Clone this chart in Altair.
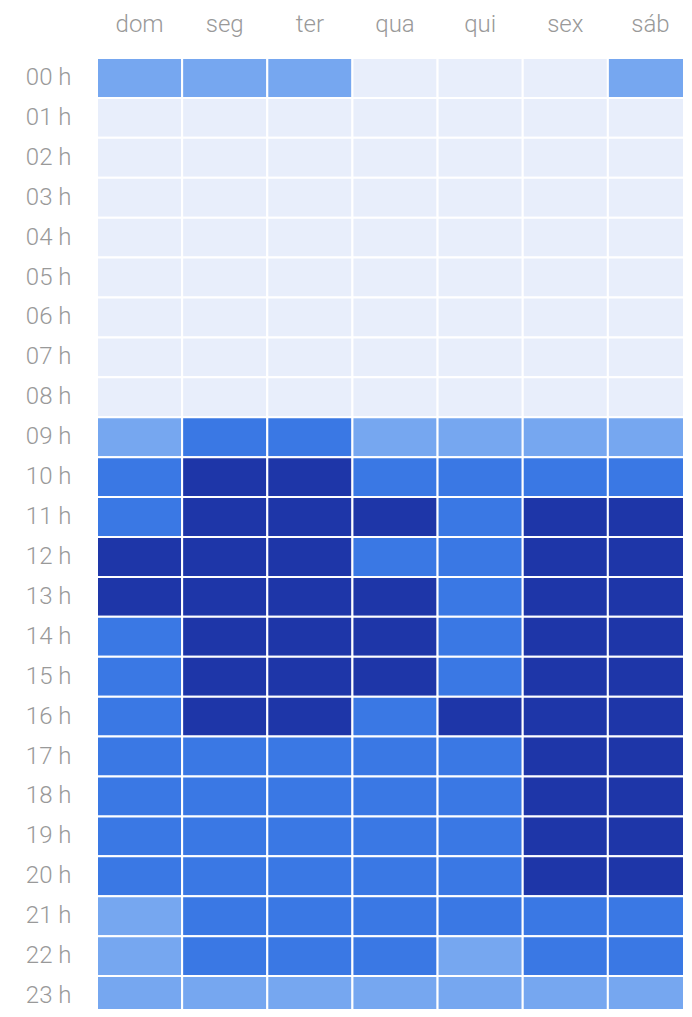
import altair as alt
import pandas as pd

days = ["dom", "seg", "ter", "qua", "qui", "sex", "sáb"]
hours = [f"{h:02d} h" for h in range(24)]

# intensity level per hour (rows) and day (columns): 0 = lowest, 3 = highest
levels = [
    [1, 1, 1, 0, 0, 0, 1],  # 00
    [0, 0, 0, 0, 0, 0, 0],  # 01
    [0, 0, 0, 0, 0, 0, 0],  # 02
    [0, 0, 0, 0, 0, 0, 0],  # 03
    [0, 0, 0, 0, 0, 0, 0],  # 04
    [0, 0, 0, 0, 0, 0, 0],  # 05
    [0, 0, 0, 0, 0, 0, 0],  # 06
    [0, 0, 0, 0, 0, 0, 0],  # 07
    [0, 0, 0, 0, 0, 0, 0],  # 08
    [1, 2, 2, 1, 1, 1, 1],  # 09
    [2, 3, 3, 2, 2, 2, 2],  # 10
    [2, 3, 3, 3, 2, 3, 3],  # 11
    [3, 3, 3, 2, 2, 3, 3],  # 12
    [3, 3, 3, 3, 2, 3, 3],  # 13
    [2, 3, 3, 3, 2, 3, 3],  # 14
    [2, 3, 3, 3, 2, 3, 3],  # 15
    [2, 3, 3, 2, 3, 3, 3],  # 16
    [2, 2, 2, 2, 2, 3, 3],  # 17
    [2, 2, 2, 2, 2, 3, 3],  # 18
    [2, 2, 2, 2, 2, 3, 3],  # 19
    [2, 2, 2, 2, 2, 3, 3],  # 20
    [1, 2, 2, 2, 2, 2, 2],  # 21
    [1, 2, 2, 2, 1, 2, 2],  # 22
    [1, 1, 1, 1, 1, 1, 1],  # 23
]

level_domain = [0, 1, 2, 3]
level_colors = ["#e8eefb", "#76a7f0", "#3a78e4", "#1e36a8"]

rows = []
for hi, h in enumerate(hours):
    for di, d in enumerate(days):
        rows.append({"dia": d, "hora": h, "nivel": levels[hi][di]})
df = pd.DataFrame(rows)

label_style = dict(
    ticks=False,
    domain=False,
    labelFontSize=24,
    labelFont="Roboto",
    labelFontWeight=300,
    labelColor="#999999",
)

chart = (
    alt.Chart(df)
    .mark_rect(stroke="white", strokeWidth=2, clip=True)
    .encode(
        x=alt.X(
            "dia:N",
            sort=days,
            title=None,
            scale=alt.Scale(paddingInner=0, paddingOuter=0, range=[0, 596]),
            axis=alt.Axis(orient="top", labelPadding=22, labelAngle=0, **label_style),
        ),
        y=alt.Y(
            "hora:N",
            sort=hours,
            title=None,
            scale=alt.Scale(paddingInner=0, paddingOuter=0, range=[0, 958]),
            axis=alt.Axis(labelPadding=26, **label_style),
        ),
        color=alt.Color(
            "nivel:O",
            scale=alt.Scale(domain=level_domain, range=level_colors),
            legend=None,
        ),
    )
    .properties(
        width=586,
        height=951,
        autosize=alt.AutoSizeParams(type="none"),
        padding={"left": 89, "top": 50, "right": 0, "bottom": 0},
    )
    .configure_view(stroke=None)
)

chart.save("out.html", embed_options={"renderer": "svg", "actions": False})
